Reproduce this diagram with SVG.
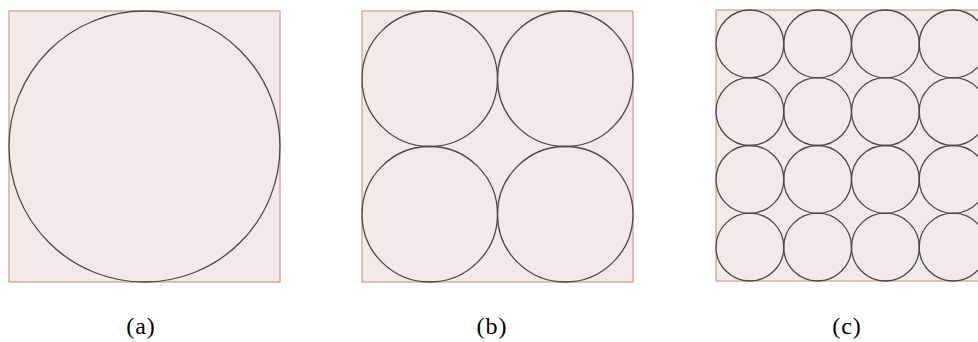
<svg xmlns="http://www.w3.org/2000/svg" width="978" height="342" viewBox="0 0 978 342">
<style>
.bg{fill:#f5e9e8;stroke:#c8a595;stroke-width:1.3}
.c{fill:none;stroke:#4e4646;stroke-width:1.3}
.lbl{font-family:"Liberation Serif","DejaVu Serif",serif;font-size:24px;letter-spacing:1px;fill:#000;text-anchor:middle}
</style>
<rect width="978" height="342" fill="#fff"/>
<g id="panel-a">
<rect class="bg" x="9" y="11" width="271" height="271"/>
<circle class="c" cx="144.5" cy="146.5" r="135.5"/>
<text class="lbl" x="141" y="334">(a)</text>
</g>
<g id="panel-b">
<rect class="bg" x="362" y="11" width="271" height="271"/>
<circle class="c" cx="429.75" cy="78.75" r="67.75"/>
<circle class="c" cx="565.25" cy="78.75" r="67.75"/>
<circle class="c" cx="429.75" cy="214.25" r="67.75"/>
<circle class="c" cx="565.25" cy="214.25" r="67.75"/>
<text class="lbl" x="492" y="334">(b)</text>
</g>
<g id="panel-c">
<rect class="bg" x="716" y="10" width="271" height="271"/>
<g>
<circle class="c" cx="749.9" cy="43.9" r="33.9"/>
<circle class="c" cx="817.6" cy="43.9" r="33.9"/>
<circle class="c" cx="885.4" cy="43.9" r="33.9"/>
<circle class="c" cx="953.1" cy="43.9" r="33.9"/>
<circle class="c" cx="749.9" cy="111.6" r="33.9"/>
<circle class="c" cx="817.6" cy="111.6" r="33.9"/>
<circle class="c" cx="885.4" cy="111.6" r="33.9"/>
<circle class="c" cx="953.1" cy="111.6" r="33.9"/>
<circle class="c" cx="749.9" cy="179.4" r="33.9"/>
<circle class="c" cx="817.6" cy="179.4" r="33.9"/>
<circle class="c" cx="885.4" cy="179.4" r="33.9"/>
<circle class="c" cx="953.1" cy="179.4" r="33.9"/>
<circle class="c" cx="749.9" cy="247.1" r="33.9"/>
<circle class="c" cx="817.6" cy="247.1" r="33.9"/>
<circle class="c" cx="885.4" cy="247.1" r="33.9"/>
<circle class="c" cx="953.1" cy="247.1" r="33.9"/>
</g>
<text class="lbl" x="847" y="334">(c)</text>
</g>
<g id="connectors"/>
</svg>
